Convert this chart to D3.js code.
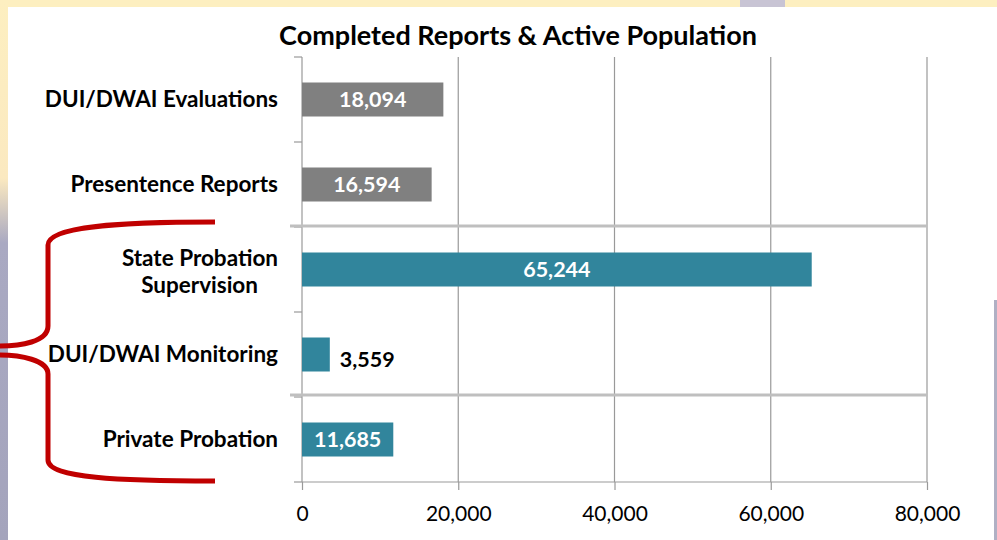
<!DOCTYPE html>
<html>
<head>
<meta charset="utf-8">
<script src="https://cdn.jsdelivr.net/npm/d3@7"></script>
<style>
  body { margin: 0; background: #fff; }
  svg { display: block; font-family: Lato, "Open Sans", sans-serif; }
</style>
</head>
<body>
<div id="chart"></div>
<script>
// data
let categories = ["DUI/DWAI Evaluations", "Presentence Reports", "State Probation Supervision", "DUI/DWAI Monitoring", "Private Probation"];
let values = [18094, 16594, 65244, 3559, 11685];
let barColors = ["#808080", "#808080", "#31859c", "#31859c", "#31859c"];
let xTicks = [0, 20000, 40000, 60000, 80000];

let svgWidth = 997;
let svgHeight = 540;

let margin = { top: 57, right: 70, bottom: 58, left: 302 };
let width = svgWidth - margin.left - margin.right;
let height = svgHeight - margin.top - margin.bottom;

let svg = d3.select("#chart")
    .append("svg")
    .attr("width", svgWidth)
    .attr("height", svgHeight);

// slide background bits around the edge
let defs = svg.append("defs");
let grad = defs.append("linearGradient")
    .attr("id", "edge")
    .attr("x1", 0).attr("y1", 0).attr("x2", 0).attr("y2", 1);
grad.append("stop").attr("offset", "0").attr("stop-color", "#fdefc0");
grad.append("stop").attr("offset", "0.33").attr("stop-color", "#fbe9c0");
grad.append("stop").attr("offset", "0.45").attr("stop-color", "#a9a9c2");
grad.append("stop").attr("offset", "1").attr("stop-color", "#a4a4bc");

svg.append("rect").attr("x", 0).attr("y", 0).attr("width", svgWidth).attr("height", 7).attr("fill", "#fdefc0");
svg.append("rect").attr("x", 0).attr("y", 0).attr("width", 8).attr("height", svgHeight).attr("fill", "url(#edge)");
svg.append("rect").attr("x", 740).attr("y", 0).attr("width", 45).attr("height", 7).attr("fill", "#c8c4d4");
svg.append("rect").attr("x", 994).attr("y", 300).attr("width", 3).attr("height", 240).attr("fill", "#b0b0c4");

let chartGroup = svg.append("g")
    .attr("transform", `translate(${margin.left}, ${margin.top})`);

let xScale = d3.scaleLinear()
    .domain([0, 80000])
    .range([0, width]);

let yScale = d3.scaleBand()
    .domain(categories)
    .range([0, height])
    .paddingInner(0.6)
    .paddingOuter(0.3);

// vertical gridlines
chartGroup.selectAll(".grid")
    .data(xTicks.slice(1))
    .enter()
    .append("line")
    .attr("x1", d => xScale(d))
    .attr("x2", d => xScale(d))
    .attr("y1", 0)
    .attr("y2", height)
    .attr("stroke", "#999")
    .attr("stroke-width", 1.2);

// bottom axis
let bottomAxis = d3.axisBottom(xScale)
    .tickValues(xTicks)
    .tickSize(8)
    .tickFormat(d3.format(","));

let xAxis = chartGroup.append("g")
    .attr("transform", `translate(0, ${height})`)
    .call(bottomAxis);
xAxis.select(".domain").attr("stroke", "#999").attr("stroke-width", 1.2).attr("d", `M0,0H${width}`);
xAxis.selectAll(".tick line").attr("stroke", "#999").attr("stroke-width", 1.2);
xAxis.selectAll(".tick text")
    .attr("y", 24)
    .attr("dy", "0.71em")
    .attr("fill", "#000")
    .attr("font-size", "21px")
    .attr("font-family", "Lato, 'Open Sans', sans-serif");

// left axis line and boundary ticks
let boundaries = d3.range(0, categories.length + 1).map(i => i * height / categories.length);
chartGroup.append("line")
    .attr("x1", 0).attr("x2", 0)
    .attr("y1", 0).attr("y2", height)
    .attr("stroke", "#999")
    .attr("stroke-width", 1.2);
chartGroup.selectAll(".ytick")
    .data(boundaries)
    .enter()
    .append("line")
    .attr("x1", -8).attr("x2", 0)
    .attr("y1", d => d).attr("y2", d => d)
    .attr("stroke", "#999")
    .attr("stroke-width", 1.2);

// category labels
let labelGroup = chartGroup.selectAll(".cat")
    .data(categories)
    .enter()
    .append("text")
    .attr("text-anchor", "end")
    .attr("x", -24)
    .attr("y", d => yScale(d) + yScale.bandwidth() / 2)
    .attr("font-size", "22.5px")
    .attr("font-weight", "bold")
    .attr("fill", "#000");

labelGroup.each(function (d) {
    let t = d3.select(this);
    if (d === "State Probation Supervision") {
        t.append("tspan").attr("x", -24).attr("dy", -4).text("State Probation");
        t.append("tspan").attr("x", -44).attr("dy", 27).text("Supervision");
    } else {
        t.attr("dy", "0.35em").text(d);
    }
});

// bars
let data = categories.map((c, i) => ({ cat: c, value: values[i], color: barColors[i] }));

chartGroup.selectAll(".bar")
    .data(data)
    .enter()
    .append("rect")
    .attr("x", 0)
    .attr("y", d => yScale(d.cat))
    .attr("width", d => xScale(d.value))
    .attr("height", yScale.bandwidth())
    .attr("fill", d => d.color);

// separator lines between groups
let separators = [boundaries[2] - 1, boundaries[4] - 2];
chartGroup.selectAll(".sep")
    .data(separators)
    .enter()
    .append("line")
    .attr("x1", -12).attr("x2", width)
    .attr("y1", d => d).attr("y2", d => d)
    .attr("stroke", "#bfbfbf")
    .attr("stroke-width", 3);

// value labels
chartGroup.selectAll(".val")
    .data(data)
    .enter()
    .append("text")
    .attr("x", d => d.value < 8000 ? xScale(d.value) + 10 : xScale(d.value) / 2)
    .attr("y", d => yScale(d.cat) + yScale.bandwidth() / 2)
    .attr("dy", d => d.value < 8000 ? "0.6em" : "0.35em")
    .attr("text-anchor", d => d.value < 8000 ? "start" : "middle")
    .attr("font-size", "21.5px")
    .attr("font-weight", "bold")
    .attr("fill", d => d.value < 8000 ? "#000" : "#fff")
    .text(d => d3.format(",")(d.value));

// title
svg.append("text")
    .attr("x", 518)
    .attr("y", 45)
    .attr("text-anchor", "middle")
    .attr("font-size", "27px")
    .attr("font-weight", "bold")
    .attr("fill", "#000")
    .text("Completed Reports & Active Population");

// red brace
let brace = d3.path();
brace.moveTo(215, 222);
brace.bezierCurveTo(120, 222, 48, 226, 48, 245);
brace.lineTo(48, 326);
brace.bezierCurveTo(48, 342, 20, 346, 0, 346);
brace.moveTo(0, 355);
brace.bezierCurveTo(20, 355, 48, 360, 48, 374);
brace.lineTo(48, 460);
brace.bezierCurveTo(48, 478, 120, 481, 215, 481);

svg.append("path")
    .attr("d", brace.toString())
    .attr("fill", "none")
    .attr("stroke", "#c00000")
    .attr("stroke-width", 5);
</script>
</body>
</html>
